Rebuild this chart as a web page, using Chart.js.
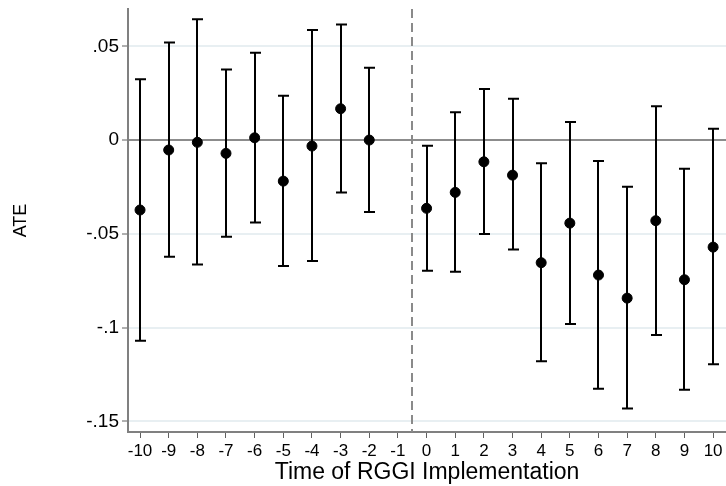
<!DOCTYPE html>
<html>
<head>
<meta charset="utf-8">
<script src="https://cdn.jsdelivr.net/npm/chart.js@4"></script>
<style>
  body { margin: 0; background: #fff; }
  #wrap { width: 726px; height: 486px; }
</style>
</head>
<body>
<div id="wrap"><canvas id="canvas" width="726" height="486"></canvas></div>
<script>
// event time relative to RGGI start (-1 is the omitted reference year)
var periods = [-10, -9, -8, -7, -6, -5, -4, -3, -2, 0, 1, 2, 3, 4, 5, 6, 7, 8, 9, 10];
var ate     = [-0.0373, -0.0053, -0.0012, -0.0071, 0.0012, -0.0219, -0.0032, 0.0167, 0.0000,
               -0.0364, -0.0279, -0.0116, -0.0187, -0.0654, -0.0443, -0.0720, -0.0843, -0.0430, -0.0745, -0.0571];
var ciLow   = [-0.1070, -0.0622, -0.0663, -0.0516, -0.0439, -0.0672, -0.0645, -0.0279, -0.0384,
               -0.0697, -0.0702, -0.0501, -0.0583, -0.1180, -0.0981, -0.1326, -0.1431, -0.1040, -0.1332, -0.1195];
var ciHigh  = [0.0324, 0.0521, 0.0644, 0.0377, 0.0466, 0.0236, 0.0587, 0.0617, 0.0386,
               -0.0030, 0.0149, 0.0272, 0.0220, -0.0123, 0.0096, -0.0112, -0.0249, 0.0180, -0.0153, 0.0060];

var xTicks = [-10, -9, -8, -7, -6, -5, -4, -3, -2, -1, 0, 1, 2, 3, 4, 5, 6, 7, 8, 9, 10];
var yTicks = [0.05, 0, -0.05, -0.1, -0.15];
var yTickLabels = ['.05', '0', '-.05', '-.1', '-.15'];
var treatLine = -0.5;

var pts = [];
for (var i = 0; i < periods.length; i++) {
    pts.push({x: periods[i], y: ate[i]});
}

// confidence intervals + the dashed line where treatment starts
var ciPlugin = {
    id: 'ciBars',
    beforeDatasetsDraw: function(chart) {
        var ctx = chart.ctx, xs = chart.scales.x, ys = chart.scales.y, area = chart.chartArea;
        ctx.save();
        ctx.strokeStyle = '#8a8a8a';
        ctx.lineWidth = 2;
        ctx.setLineDash([9, 5]);
        var lx = Math.round(xs.getPixelForValue(treatLine));
        ctx.beginPath();
        ctx.moveTo(lx, area.top);
        ctx.lineTo(lx, area.bottom);
        ctx.stroke();
        ctx.setLineDash([]);

        ctx.strokeStyle = '#000';
        ctx.lineWidth = 2;
        for (var i = 0; i < periods.length; i++) {
            var px = Math.round(xs.getPixelForValue(periods[i]));
            var lo = ys.getPixelForValue(ciLow[i]);
            var hi = ys.getPixelForValue(ciHigh[i]);
            ctx.beginPath();
            ctx.moveTo(px, lo); ctx.lineTo(px, hi);
            ctx.moveTo(px - 5, lo); ctx.lineTo(px + 6, lo);
            ctx.moveTo(px - 5, hi); ctx.lineTo(px + 6, hi);
            ctx.stroke();
        }
        ctx.restore();
    }
};

var font = 'Liberation Sans, Arial, sans-serif';

var myChart = new Chart(document.getElementById('canvas').getContext('2d'), {
    type: 'scatter',
    data: {
        datasets: [{
            data: pts,
            backgroundColor: '#000',
            borderColor: '#000',
            pointRadius: 5,
            pointHoverRadius: 5
        }]
    },
    options: {
        responsive: false,
        animation: false,
        layout: { autoPadding: false, padding: { top: 9, right: 0, left: 0, bottom: 0 } },
        plugins: { legend: { display: false }, tooltip: { enabled: false } },
        scales: {
            x: {
                type: 'linear',
                min: -10.42,
                max: 10.45,
                afterBuildTicks: function(scale) {
                    scale.ticks = xTicks.map(function(v) { return {value: v}; });
                },
                afterFit: function(scale) {
                    scale.height = 54;
                    scale.paddingLeft = 0;
                    scale.paddingRight = 0;
                },
                ticks: {
                    autoSkip: false,
                    maxRotation: 0,
                    padding: 3,
                    color: '#000',
                    font: { family: font, size: 17 },
                    callback: function(v) { return String(v); }
                },
                grid: {
                    drawOnChartArea: false,
                    tickLength: 6,
                    tickColor: '#606060',
                    tickWidth: 1
                },
                border: { color: '#808080', width: 2 },
                title: {
                    display: true,
                    text: 'Time of RGGI Implementation',
                    color: '#000',
                    font: { family: font, size: 23 },
                    padding: { top: 0, bottom: 0 }
                }
            },
            y: {
                min: -0.1557,
                max: 0.0699,
                afterBuildTicks: function(scale) {
                    scale.ticks = yTicks.map(function(v) { return {value: v}; });
                },
                afterFit: function(scale) {
                    scale.width = 128;
                    scale.paddingTop = 0;
                    scale.paddingBottom = 0;
                },
                ticks: {
                    padding: 3,
                    color: '#000',
                    font: { family: font, size: 19 },
                    callback: function(v) {
                        var k = yTicks.indexOf(v);
                        return k >= 0 ? yTickLabels[k] : '';
                    }
                },
                grid: {
                    color: function(c) { return c.tick && c.tick.value === 0 ? '#8c8c8c' : '#e8eff2'; },
                    lineWidth: 2,
                    tickLength: 6,
                    tickColor: '#606060',
                    tickWidth: 1
                },
                border: { color: '#808080', width: 2 },
                title: {
                    display: true,
                    text: 'ATE',
                    color: '#000',
                    font: { family: font, size: 18 },
                    padding: { top: 10, bottom: 0 }
                }
            }
        }
    },
    plugins: [ciPlugin]
});
</script>
</body>
</html>
